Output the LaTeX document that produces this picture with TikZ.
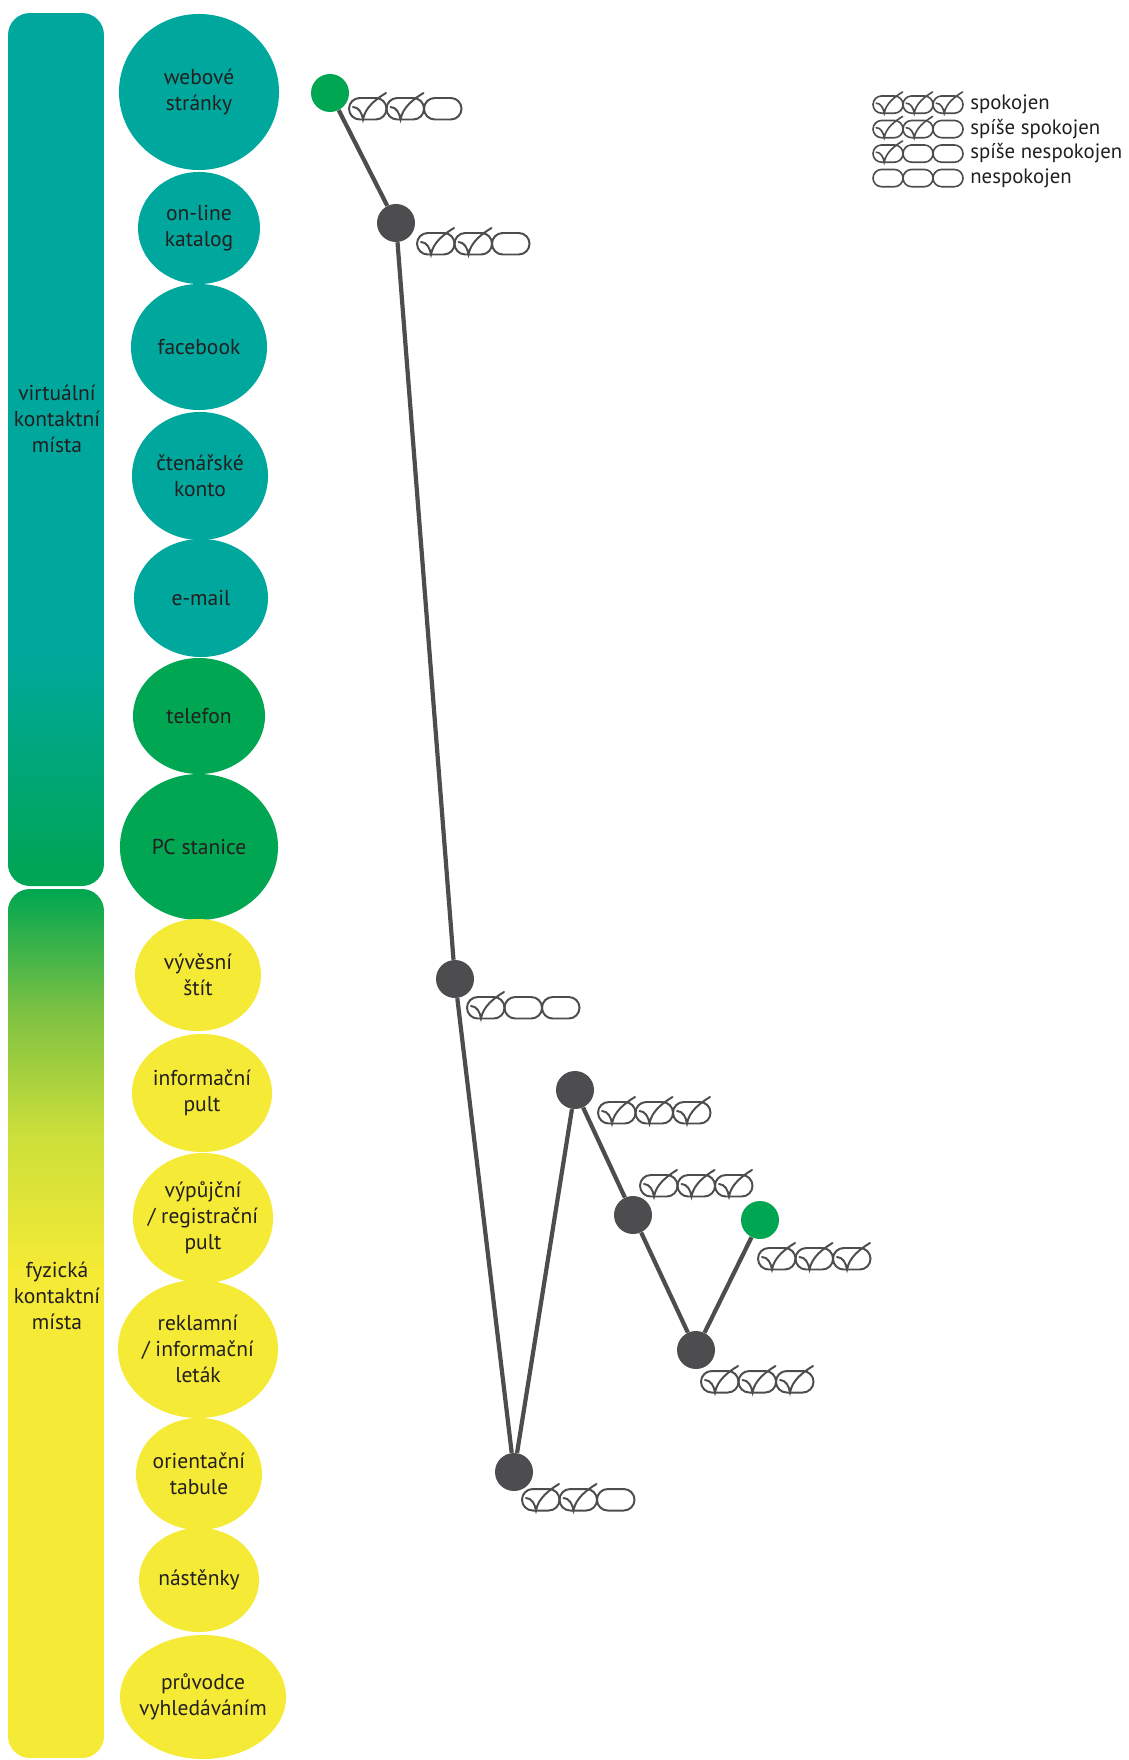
\documentclass[tikz,border=0pt]{standalone}
\usepackage{fontspec}
\setmainfont{PT Sans}
\usetikzlibrary{shapes.geometric}
\definecolor{tyrkys}{HTML}{00A79D}
\definecolor{zelena}{HTML}{00A651}
\definecolor{zluta}{HTML}{F5EA35}
\definecolor{svzel}{HTML}{7CC142}
\definecolor{zlzel}{HTML}{CADE3A}
\definecolor{seda}{HTML}{4D4D4F}
\definecolor{pismo}{HTML}{231F20}
\newcommand\popis{\fontsize{15.3}{18.6}\selectfont}
\newcommand\legpopis{\fontsize{14.8}{18}\selectfont}
\tikzset{
  spot/.style={ellipse, inner sep=-0.6cm, align=center, font=\popis, text=pismo},
  lbl/.style={align=center, font=\popis, text=pismo},
  leglbl/.style={anchor=base west, inner sep=0pt, font=\legpopis, text=pismo},
  dot/.style={circle, fill=seda, minimum size=0.95cm, inner sep=0pt},
  gdot/.style={dot, fill=zelena},
  ovalline/.style={draw=seda, line width=1.4pt},
  chk/.style={draw=seda, line width=1.4pt, line cap=round},
  legend/.style={scale=0.8, ovalline/.append style={line width=1.15pt}, chk/.append style={line width=1.15pt}},
  rating/.pic={
    \foreach \k in {1,2,3}{
      \draw[ovalline] ({(\k-1)*37.5+10.75},0) -- ({\k*37.5-10.75},0)
        arc[start angle=-90, end angle=90, radius=10.75]
        -- ({(\k-1)*37.5+10.75},21.5)
        arc[start angle=90, end angle=270, radius=10.75] -- cycle;
      \ifnum\k>#1\relax\else
        \draw[chk] ({(\k-1)*37.5+4},9) .. controls +(6,0) and +(-1,-6) .. ({(\k-1)*37.5+14},21.5)
          .. controls +(2,-12) and +(-10,6) .. ({(\k-1)*37.5+37},-5);
      \fi
    }
  }
}
\begin{document}
\begin{tikzpicture}[x=0.025cm, y=-0.025cm]
  \useasboundingbox (0,0) rectangle (1129,1760);
  % bars
  \begin{scope}
    \clip[rounded corners=0.55cm] (8,13) rectangle (104,886);
    \fill[tyrkys] (8,13) rectangle (104,651);
    \shade[top color=tyrkys, bottom color=zelena] (8,650) rectangle (104,886);
  \end{scope}
  \begin{scope}
    \clip[rounded corners=0.55cm] (8,889) rectangle (104,1758);
    \shade[top color=zelena, bottom color=svzel] (8,889) rectangle (104,1011);
    \shade[top color=svzel, bottom color=zlzel] (8,1010) rectangle (104,1131);
    \shade[top color=zlzel, bottom color=zluta] (8,1130) rectangle (104,1271);
    \fill[zluta] (8,1270) rectangle (104,1758);
  \end{scope}
  \node[lbl] (virt) at (57,419) {virtuální\\kontaktní\\místa};
  \node[lbl] (fyz) at (57,1296) {fyzická\\kontaktní\\místa};

  % contact points
  \node[spot, fill=tyrkys, minimum width=4cm, minimum height=3.9cm] (web) at (199,92) {webové\\stránky};
  \node[spot, fill=tyrkys, minimum width=3.05cm, minimum height=2.8cm] (kat) at (199,228) {on-line\\katalog};
  \node[spot, fill=tyrkys, minimum width=3.4cm, minimum height=3.15cm] (fb) at (199,347) {facebook};
  \node[spot, fill=tyrkys, minimum width=3.4cm, minimum height=3.2cm] (konto) at (200,476) {čtenářské\\konto};
  \node[spot, fill=tyrkys, minimum width=3.35cm, minimum height=2.95cm] (mail) at (201,598) {e-mail};
  \node[spot, fill=zelena, minimum width=3.3cm, minimum height=2.9cm] (tel) at (199,716) {telefon};
  \node[spot, fill=zelena, minimum width=3.95cm, minimum height=3.65cm] (pc) at (199,847) {PC stanice};
  \node[spot, fill=zluta, minimum width=3.15cm, minimum height=2.8cm] (stit) at (198,975) {vývěsní\\štít};
  \node[spot, fill=zluta, minimum width=3.5cm, minimum height=2.95cm] (info) at (202,1093) {informační\\pult};
  \node[spot, fill=zluta, minimum width=3.5cm, minimum height=3.25cm] (vyp) at (203,1218) {výpůjční\\/ registrační\\pult};
  \node[spot, fill=zluta, minimum width=4cm, minimum height=3.45cm] (rekl) at (198,1349) {reklamní\\/ informační\\leták};
  \node[spot, fill=zluta, minimum width=3.15cm, minimum height=2.8cm] (tab) at (199,1474) {orientační\\tabule};
  \node[spot, fill=zluta, minimum width=3cm, minimum height=2.6cm] (nast) at (199,1580) {nástěnky};
  \node[spot, fill=zluta, minimum width=4.15cm, minimum height=3.1cm] (pruv) at (203,1697) {průvodce\\vyhledáváním};

  % path
  \draw
    (330,93) node[gdot] (p1){}
    (396,223) node[dot] (p2){}
    (455,979) node[dot] (p3){}
    (514,1472) node[dot] (p4){}
    (575,1090) node[dot] (p5){}
    (633,1215) node[dot] (p6){}
    (696,1350) node[dot] (p7){}
    (760,1220) node[gdot] (p8){};
  \begin{scope}[seda, line width=3pt]
    \draw (p1) to (p2);
    \draw (p2) to (p3);
    \draw (p3) to (p4);
    \draw (p4) to (p5);
    \draw (p5) to (p6);
    \draw (p6) to (p7);
    \draw (p7) to (p8);
  \end{scope}
  \pic at ([shift={(19,5)}]p1.center) {rating=2};
  \pic at ([shift={(21,10)}]p2.center) {rating=2};
  \pic at ([shift={(12,18)}]p3.center) {rating=1};
  \pic at ([shift={(8,17)}]p4.center) {rating=2};
  \pic at ([shift={(23,12)}]p5.center) {rating=3};
  \pic at ([shift={(7,-40)}]p6.center) {rating=3};
  \pic at ([shift={(5,21)}]p7.center) {rating=3};
  \pic at ([shift={(-2,28)}]p8.center) {rating=3};

  % legend
  \pic[legend] at (873,96) {rating=3};
  \pic[legend] at (873,120.5) {rating=2};
  \pic[legend] at (873,145) {rating=1};
  \pic[legend] at (873,169.5) {rating=0};
  \node[leglbl] (l3) at (970,110) {spokojen};
  \node[leglbl] (l2) at (970,134.5) {spíše spokojen};
  \node[leglbl] (l1) at (970,159) {spíše nespokojen};
  \node[leglbl] (l0) at (970,183.5) {nespokojen};
\end{tikzpicture}
\end{document}
